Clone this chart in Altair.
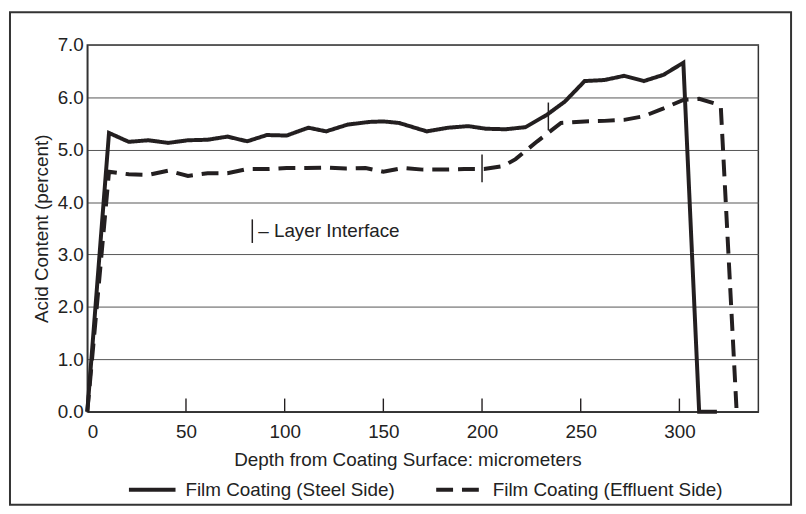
import altair as alt
import pandas as pd

# Film Coating (Steel Side)
steel_depth = [0, 11, 21, 31, 41, 51, 61, 71, 81, 91, 101, 112, 121, 132, 143, 150, 158,
               172, 183, 193, 202, 212, 222, 233, 242, 252, 262, 272, 282, 292, 302, 310, 319]
steel_acid = [0, 5.32, 5.15, 5.18, 5.13, 5.18, 5.19, 5.25, 5.16, 5.28, 5.27, 5.42, 5.35, 5.48, 5.53, 5.54, 5.51,
              5.35, 5.42, 5.45, 5.40, 5.39, 5.43, 5.67, 5.92, 6.31, 6.33, 6.41, 6.31, 6.43, 6.66, 0, 0]

# Film Coating (Effluent Side)
eff_depth = [0, 11, 21, 31, 41, 51, 61, 71, 81, 91, 101, 111, 121, 131, 141, 150, 160, 170,
             180, 191, 201, 211, 217, 228, 240, 252, 262, 272, 282, 292, 302, 310, 318, 321, 329]
eff_acid = [0, 4.58, 4.53, 4.52, 4.60, 4.50, 4.55, 4.55, 4.63, 4.63, 4.65, 4.65, 4.66, 4.64, 4.65, 4.58, 4.65, 4.62,
            4.62, 4.63, 4.63, 4.69, 4.82, 5.16, 5.51, 5.54, 5.55, 5.57, 5.64, 5.79, 5.95, 5.97, 5.88, 5.80, 0]

series_names = ["Film Coating (Steel Side)", "Film Coating (Effluent Side)"]

# Layer interface markers (depth, acid from, acid to)
iface_depth = [233.6, 200.0, 83.6]
iface_lo = [5.37, 4.38, 3.22]
iface_hi = [5.90, 4.91, 3.67]

note_depth = [86.6]
note_acid = [3.44]
note_text = ["– Layer Interface"]

x_ticks = [0, 50, 100, 150, 200, 250, 300]
y_ticks = [0, 1, 2, 3, 4, 5, 6, 7]
inner_tick_len = 0.25  # acid-content units (ticks drawn inside the plot)

INK = "#231f20"
FONT = "Liberation Sans"
FS = 19

df = pd.concat([
    pd.DataFrame({"depth": steel_depth, "acid": steel_acid, "series": series_names[0], "order": range(len(steel_depth))}),
    pd.DataFrame({"depth": eff_depth, "acid": eff_acid, "series": series_names[1], "order": range(len(eff_depth))}),
])

xscale = alt.Scale(domain=[0, 340], nice=False, zero=False)
yscale = alt.Scale(domain=[0, 7], nice=False)

lines = alt.Chart(df).mark_line(color=INK, strokeWidth=4, strokeJoin="miter", strokeCap="butt").encode(
    x=alt.X("depth:Q", scale=xscale,
            axis=alt.Axis(values=x_ticks, title="Depth from Coating Surface: micrometers", grid=False,
                          ticks=False, labelPadding=11, titlePadding=9, titleX=323,
                          domainColor="#333", domainWidth=1.5)),
    y=alt.Y("acid:Q", scale=yscale,
            axis=alt.Axis(values=y_ticks, format=".1f", title="Acid Content (percent)", ticks=False,
                          labelPadding=4, titlePadding=6, gridColor="#555", gridWidth=1, domainColor="#333",
                          domainWidth=1.5)),
    strokeDash=alt.StrokeDash("series:N", scale=alt.Scale(domain=series_names, range=[[1, 0], [17, 9]]),
                              legend=alt.Legend(title=None, orient="none", direction="horizontal",
                                                legendX=40, legendY=423, symbolType="stroke",
                                                symbolSize=2209, symbolStrokeWidth=4, symbolStrokeColor=INK,
                                                labelFontSize=FS, labelFont=FONT, labelColor="#222",
                                                labelLimit=500, columnPadding=33, labelOffset=8)),
    order="order:Q",
)

seg_df = pd.DataFrame({
    "depth": iface_depth + x_ticks[1:],
    "lo": iface_lo + [0.0] * (len(x_ticks) - 1),
    "hi": iface_hi + [inner_tick_len] * (len(x_ticks) - 1),
    "w": [1.5] * len(iface_depth) + [1.4] * (len(x_ticks) - 1),
})
segs = alt.Chart(seg_df).mark_rule(color=INK).encode(
    x=alt.X("depth:Q", scale=xscale), y=alt.Y("lo:Q", scale=yscale), y2="hi:Q",
    strokeWidth=alt.StrokeWidth("w:Q", scale=None, legend=None),
)

note_df = pd.DataFrame({"depth": note_depth, "acid": note_acid, "label": note_text})
note = alt.Chart(note_df).mark_text(align="left", baseline="middle", fontSize=FS, font=FONT, color="#222").encode(
    x=alt.X("depth:Q", scale=xscale), y=alt.Y("acid:Q", scale=yscale), text="label:N"
)

frame = alt.Chart(alt.Data(values=[{}])).mark_rect(fill=None, stroke="#333", strokeWidth=2).encode(
    x=alt.value(-78), x2=alt.value(710), y=alt.value(-33), y2=alt.value(464)
)

chart = alt.layer(frame, lines, segs, note).properties(
    width=677, height=370,
    padding={"left": 80, "top": 35, "right": 40, "bottom": 100},
    autosize=alt.AutoSizeParams(type="none"),
).configure_view(stroke="#333", strokeWidth=1.5).configure_axis(
    labelFont=FONT, titleFont=FONT, labelFontSize=FS, titleFontSize=FS, titleFontWeight="normal",
    labelColor="#222", titleColor="#222"
)

chart.save("out.html", embed_options={"renderer": "svg", "actions": False})
